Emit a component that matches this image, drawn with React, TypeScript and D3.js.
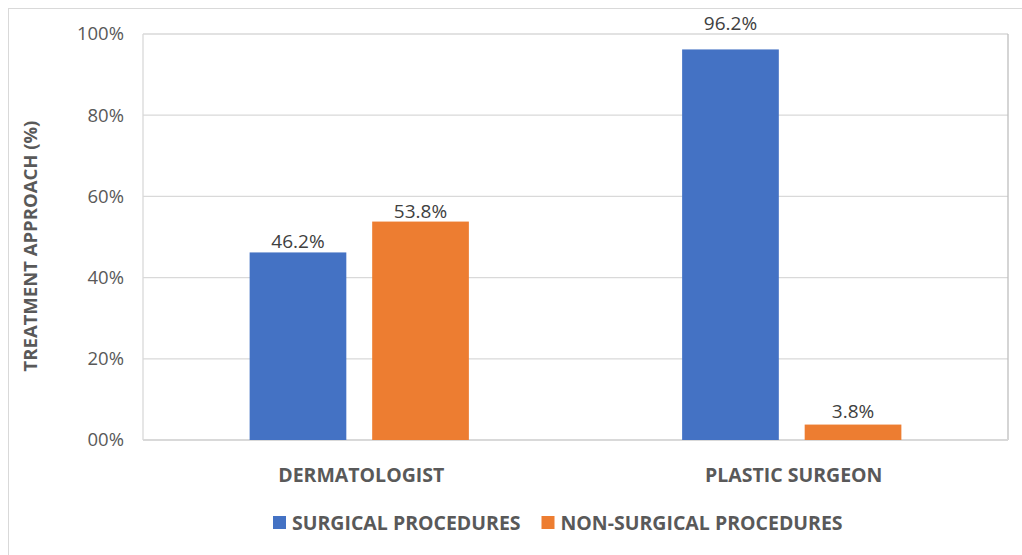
import React from "react";
import * as d3 from "d3";

const categories = ["DERMATOLOGIST", "PLASTIC SURGEON"];
const seriesNames = ["SURGICAL PROCEDURES", "NON-SURGICAL PROCEDURES"];
const surgical = [46.2, 96.2];
const nonSurgical = [53.8, 3.8];
const yTicks = [0, 20, 40, 60, 80, 100];
const yTickLabels = ["00%", "20%", "40%", "60%", "80%", "100%"];
const colors = ["#4472C4", "#ED7D31"];

const W = 1022;
const H = 555;
const plot = { left: 143, top: 34, right: 1008, bottom: 440 };
const FONT = "'Open Sans', 'Noto Sans', sans-serif";
// gap (px) between each bar top and its label baseline, [series][category]
const LABEL_GAPS = [
  [4, 19],
  [4, 7],
];

export default function App() {
  const x0 = d3
    .scaleBand<string>()
    .domain(categories)
    .range([plot.left, plot.right])
    .paddingInner(0)
    .paddingOuter(0);
  const y = d3.scaleLinear().domain([0, 100]).range([plot.bottom, plot.top]);
  const series = [surgical, nonSurgical];
  const x1 = d3
    .scaleBand<number>()
    .domain([0, 1])
    .range([0, x0.bandwidth()])
    .paddingInner(0.211)
    .paddingOuter(0.87);

  const legendX = [273, 541.5];

  return (
    <svg
      width={W}
      height={H}
      style={{ position: "absolute", left: 0, top: 0 }}
      fontFamily={FONT}
    >
      <rect x={0} y={0} width={W} height={H} fill="#fff" />
      <rect x={8.5} y={8.5} width={W + 10} height={H + 10} fill="none" stroke="#d9d9d9" strokeWidth={1} />
      {yTicks.map((t) => (
        <line
          key={t}
          x1={plot.left}
          x2={plot.right}
          y1={y(t)}
          y2={y(t)}
          stroke="#d9d9d9"
          strokeWidth={1.3}
        />
      ))}
      <line x1={plot.left} x2={plot.left} y1={plot.top} y2={plot.bottom} stroke="#d9d9d9" strokeWidth={1.3} />
      <line x1={plot.right} x2={plot.right} y1={plot.top} y2={plot.bottom} stroke="#bfbfbf" strokeWidth={1.3} />
      <line x1={plot.left} x2={plot.right} y1={plot.bottom} y2={plot.bottom} stroke="#d9d9d9" strokeWidth={2} />
      {yTicks.map((t, i) => (
        <text
          key={t}
          x={124}
          y={y(t)}
          dy="0.35em"
          textAnchor="end"
          fontSize={18.5}
          fill="#595959"
        >
          {yTickLabels[i]}
        </text>
      ))}
      {categories.map((c, ci) =>
        series.map((s, si) => {
          const bx = (x0(c) as number) + (x1(si) as number);
          return (
            <g key={c + si}>
              <rect
                x={bx}
                y={y(s[ci])}
                width={x1.bandwidth()}
                height={y(0) - y(s[ci])}
                fill={colors[si]}
              />
              <text
                x={bx + x1.bandwidth() / 2}
                y={y(s[ci]) - LABEL_GAPS[si][ci]}
                textAnchor="middle"
                fontSize={19}
                fill="#404040"
              >
                {s[ci].toFixed(1)}%
              </text>
            </g>
          );
        })
      )}
      {categories.map((c) => (
        <text
          key={c}
          x={(x0(c) as number) + x0.bandwidth() / 2 + 2}
          y={482}
          textAnchor="middle"
          fontSize={19.5}
          fontWeight="bold"
          fill="#595959"
        >
          {c}
        </text>
      ))}
      <text
        transform={`translate(37, 246) rotate(-90)`}
        textAnchor="middle"
        fontSize={18.5}
        fontWeight="bold"
        fill="#595959"
      >
        TREATMENT APPROACH (%)
      </text>
      {seriesNames.map((name, i) => (
        <g key={name}>
          <rect x={legendX[i]} y={516} width={13} height={13} fill={colors[i]} />
          <text x={legendX[i] + 19} y={530} fontSize={19.5} fontWeight="bold" fill="#595959">
            {name}
          </text>
        </g>
      ))}
    </svg>
  );
}
